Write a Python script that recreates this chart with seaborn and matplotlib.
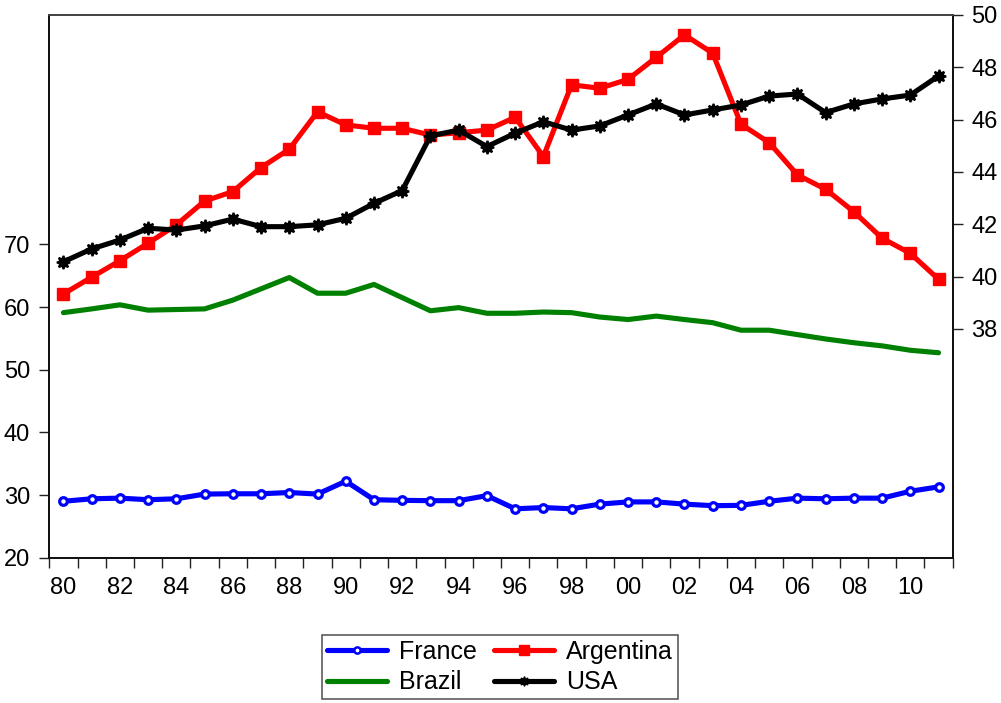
import numpy as np
import pandas as pd
import matplotlib
matplotlib.use("Agg")
import matplotlib.pyplot as plt
from matplotlib.lines import Line2D
import seaborn as sns

# Dados (1980-2011)
anos = list(range(1980, 2012))

france = [29.0, 29.4, 29.5, 29.25, 29.4, 30.15, 30.2, 30.2, 30.4, 30.15,
          32.2, 29.25, 29.15, 29.1, 29.1, 29.9, 27.8, 28.0, 27.8, 28.55,
          28.9, 28.9, 28.55, 28.3, 28.35, 29.0, 29.5, 29.4, 29.5, 29.5,
          30.6, 31.3]

brazil = [59.1, 59.7, 60.35, 59.5, 59.6, 59.7, 61.1, 62.9, 64.7, 62.2,
          62.2, 63.6, 61.5, 59.4, 59.9, 59.0, 59.0, 59.2, 59.1, 58.4,
          58.0, 58.55, 58.0, 57.5, 56.3, 56.3, 55.6, 54.9, 54.3, 53.8,
          53.1, 52.7]

argentina = [39.34, 39.98, 40.61, 41.28, 41.98, 42.89, 43.25, 44.17, 44.87, 46.3,
             45.8, 45.67, 45.67, 45.41, 45.5, 45.6, 46.09, 44.59, 47.33, 47.2,
             47.54, 48.38, 49.24, 48.54, 45.83, 45.12, 43.89, 43.34, 42.48, 41.47,
             40.89, 39.9]

usa = [40.57, 41.06, 41.4, 41.85, 41.78, 41.94, 42.2, 41.91, 41.91, 41.98,
       42.23, 42.8, 43.29, 45.38, 45.6, 44.97, 45.48, 45.92, 45.6, 45.76,
       46.18, 46.6, 46.18, 46.37, 46.56, 46.9, 46.98, 46.27, 46.6, 46.79,
       46.94, 47.67]

ticks_esq = [20, 30, 40, 50, 60, 70]
ticks_dir = [38, 40, 42, 44, 46, 48, 50]

sns.set_style("ticks")
plt.rcParams['font.family'] = ['Liberation Sans', 'DejaVu Sans']
plt.rcParams['text.color'] = 'black'

fig = plt.figure(figsize=(10.01, 7.03), dpi=100)
ax = fig.add_axes([0.0493, 0.2067, 0.9024, 0.772])
ax2 = ax.twinx()

lw = 3.7
sns.lineplot(x=anos, y=brazil, ax=ax, color='#008000', linewidth=lw, legend=False)
sns.lineplot(x=anos, y=france, ax=ax, color='#0000FF', linewidth=lw, marker='o',
             markersize=5.5, markerfacecolor='white', markeredgecolor='#0000FF',
             markeredgewidth=2.3, legend=False)
sns.lineplot(x=anos, y=argentina, ax=ax2, color='#FF0000', linewidth=lw, marker='s',
             markersize=8.5, markerfacecolor='#FF0000', markeredgecolor='#FF0000',
             markeredgewidth=1.0, legend=False)
sns.lineplot(x=anos, y=usa, ax=ax2, color='black', linewidth=lw, marker=(8, 1, 0),
             markersize=9.5, markerfacecolor='black', markeredgecolor='black',
             markeredgewidth=1.5, legend=False)

# Eixos
ax.set_xlim(1979.5, 2011.5)
ax.set_ylim(20, 106.6)
ax2.set_ylim(29.26, 50)
ax.set_yticks(ticks_esq)
ax2.set_yticks(ticks_dir)
ax.set_xticks(np.arange(1979.5, 2012, 1))
ax.set_xticklabels([])
pares = [a for a in anos if a % 2 == 0]
ax.set_xticks(pares, minor=True)
ax.set_xticklabels([f"{a % 100:02d}" for a in pares], minor=True)
ax.tick_params(axis='x', which='minor', length=0, pad=14, labelsize=17,
               labelcolor='black')
ax.tick_params(axis='x', which='major', length=7.5, width=1, color='#222222')
ax.tick_params(axis='y', length=7.5, width=1, color='#222222', pad=6.5,
               labelsize=17, labelcolor='black')
ax2.tick_params(axis='y', length=7.5, width=1, color='#222222', pad=6,
                labelsize=17, labelcolor='black')
ax.set_xlabel('')
ax.set_ylabel('')
ax2.set_ylabel('')
for a in (ax, ax2):
    for s in a.spines.values():
        s.set_color('#111111')
        s.set_linewidth(1.3)
    a.spines['top'].set_color('#444444')

# Legenda (ncol=2 preenche por coluna)
h_france = Line2D([], [], color='#0000FF', lw=lw, marker='o', markersize=4.5,
                  markerfacecolor='white', markeredgecolor='#0000FF',
                  markeredgewidth=1.8)
h_arg = Line2D([], [], color='#FF0000', lw=lw, marker='s', markersize=7,
               markerfacecolor='#FF0000', markeredgecolor='#FF0000')
h_bra = Line2D([], [], color='#008000', lw=lw)
h_usa = Line2D([], [], color='black', lw=lw, marker=(8, 1, 0), markersize=7,
               markerfacecolor='black', markeredgecolor='black')
leg = fig.legend([h_france, h_bra, h_arg, h_usa],
                 ['France', 'Brazil', 'Argentina', 'USA'],
                 ncol=2, loc='upper center',
                 bbox_to_anchor=(0.4995, 0.0967), borderaxespad=0,
                 frameon=True, fancybox=False,
                 edgecolor='#333333', fontsize=18, handlelength=2.4,
                 handletextpad=0.48, columnspacing=0.68, borderpad=0.2,
                 labelspacing=0.25)
leg.get_frame().set_linewidth(1.2)

plt.savefig('out.png', dpi=100)
